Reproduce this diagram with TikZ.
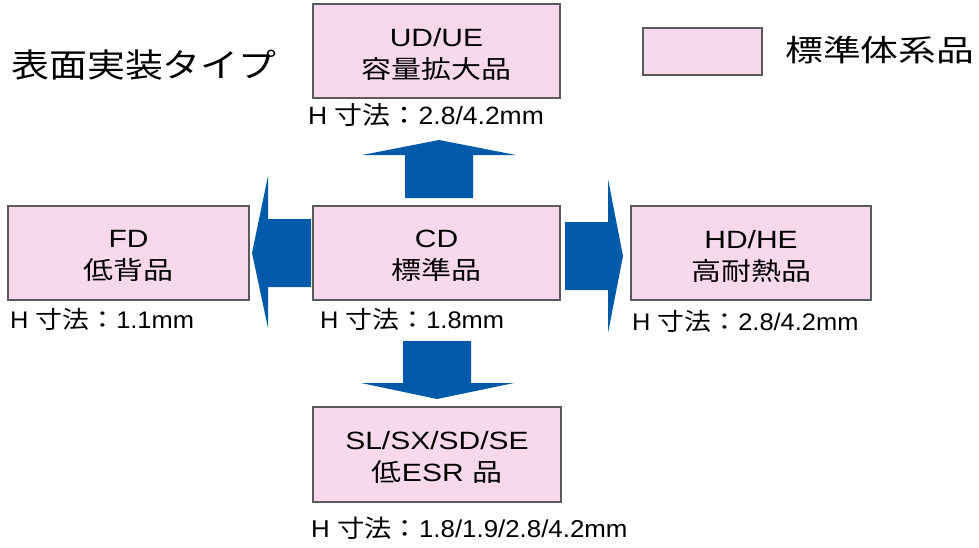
\documentclass[tikz,border=0pt]{standalone}
\usepackage{fontspec}
\setmainfont{Liberation Sans}[FakeStretch=1.2]
\newfontfamily\boxlat{Liberation Sans}[FakeStretch=1.2]
\newfontfamily\boxjp{Noto Sans CJK JP}[FakeStretch=1.2]
\newfontfamily\titlejp{Noto Sans CJK JP}[FakeStretch=1.15]
\newfontfamily\legjp{Noto Sans CJK JP}[FakeStretch=1.26]
\newfontfamily\lbllat{Liberation Sans}[FakeStretch=1.06]
\newfontfamily\lbljp{Noto Sans CJK JP}[FakeStretch=1.12]
\definecolor{boxpink}{HTML}{F8D9EC}
\definecolor{boxline}{HTML}{5A5A5A}
\definecolor{arrowblue}{HTML}{005AAA}
\tikzset{
  pbox/.style={draw=boxline, fill=boxpink, line width=1.1pt, inner sep=0pt},
  btxt/.style={align=center, inner sep=0pt, font=\boxlat\fontsize{25}{32}\selectfont},
  lbl/.style={anchor=base west, inner sep=0pt, font=\lbllat\fontsize{24}{28}\selectfont},
  bigjp/.style={anchor=west, inner sep=0pt},
  barrow/.style={fill=arrowblue, draw=none}
}
\begin{document}
\begin{tikzpicture}[x=1pt,y=-1pt]
\useasboundingbox (0,0) rectangle (979,547);

% boxes
\node[pbox, minimum width=247pt, minimum height=94pt] (ud) at (436.5,51) {};
\node[pbox, minimum width=247pt, minimum height=94pt] (cd) at (436.5,253) {};
\node[pbox, minimum width=241pt, minimum height=94pt] (fd) at (128.5,253) {};
\node[pbox, minimum width=240pt, minimum height=94pt] (hd) at (751,253) {};
\node[pbox, minimum width=248pt, minimum height=95pt] (sl) at (437,454.5) {};
\node[pbox, minimum width=119pt, minimum height=47pt] (leg) at (702.5,51.5) {};

% box texts
\node[btxt] (udt) at ([yshift=-3pt]ud.center) {UD/UE\\{\boxjp 容量拡大品}};
\node[btxt] (cdt) at ([yshift=-3pt]cd.center) {CD\\{\boxjp 標準品}};
\node[btxt] (fdt) at ([yshift=-3pt]fd.center) {FD\\{\boxjp 低背品}};
\node[btxt] (hdt) at ([yshift=-3pt]hd.center) {HD/HE\\{\boxjp 高耐熱品}};
\node[btxt] (slt) at ([yshift=-3pt]sl.center) {SL/SX/SD/SE\\{\boxjp 低}ESR {\boxjp 品}};

% H dimension labels
\node[lbl, font=\lbllat\fontsize{25}{28}\selectfont] (udl) at (308,124) {H {\lbljp 寸法：}2.8/4.2mm};
\node[lbl] (cdl) at (320,328) {H {\lbljp 寸法：}1.8mm};
\node[lbl] (fdl) at (10,328) {H {\lbljp 寸法：}1.1mm};
\node[lbl] (hdl) at (632,330) {H {\lbljp 寸法：}2.8/4.2mm};
\node[lbl, font=\lbllat\fontsize{24.4}{28}\selectfont] (sll) at (311,537) {H {\lbljp 寸法：}1.8/1.9/2.8/4.2mm};

% title and legend
\node[bigjp, font=\titlejp\fontsize{33}{36}\selectfont] (title) at (11,65) {表面実装タイプ};
\node[bigjp, font=\legjp\fontsize{30}{34}\selectfont] (legt) at (785,50) {標準体系品};

% block arrows
\fill[barrow] (405,198) -- (405,155) -- (362,155) -- (439,140) -- (516,155) -- (473,155) -- (473,198) -- cycle;
\fill[barrow] (403,341) -- (471,341) -- (471,383) -- (514,383) -- (437,399) -- (361,383) -- (403,383) -- cycle;
\fill[barrow] (311,219) -- (268,219) -- (268,176) -- (252,253) -- (268,328) -- (268,287) -- (311,287) -- cycle;
\fill[barrow] (565,222) -- (608,222) -- (608,179) -- (623,256) -- (608,333) -- (608,290) -- (565,290) -- cycle;
\end{tikzpicture}
\end{document}
